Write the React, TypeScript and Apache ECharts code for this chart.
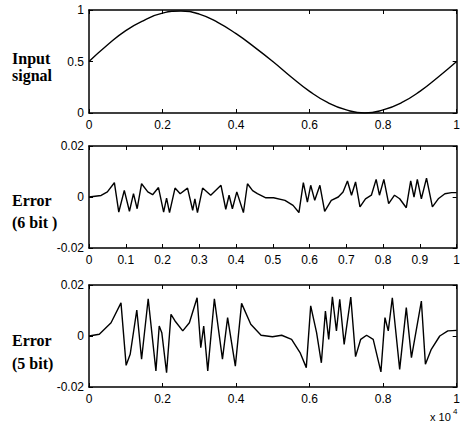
import React, { useEffect, useRef } from "react";
import * as echarts from "echarts";

// Input signal (x in units of 10^4 samples)
const inputX = [0, 0.05, 0.1, 0.15, 0.2, 0.25, 0.3, 0.35, 0.4, 0.45, 0.5, 0.55, 0.6, 0.65, 0.7, 0.75, 0.8, 0.85, 0.9, 0.95, 1];
const inputY = [0.5, 0.66, 0.8, 0.9, 0.97, 0.99, 0.96, 0.88, 0.77, 0.64, 0.5, 0.35, 0.21, 0.1, 0.03, 0.0, 0.03, 0.1, 0.21, 0.35, 0.5];

// Error, 6 bit
const err6X = [0, 0.033, 0.05, 0.069, 0.081, 0.096, 0.11, 0.121, 0.131, 0.143, 0.16, 0.173, 0.189, 0.203, 0.211, 0.219, 0.234, 0.248, 0.268, 0.282, 0.288, 0.295, 0.309, 0.331, 0.359, 0.372, 0.381, 0.39, 0.402, 0.42, 0.431, 0.445, 0.458, 0.481, 0.502, 0.533, 0.555, 0.571, 0.583, 0.594, 0.603, 0.614, 0.628, 0.641, 0.659, 0.678, 0.691, 0.703, 0.714, 0.725, 0.737, 0.752, 0.768, 0.781, 0.79, 0.802, 0.815, 0.831, 0.845, 0.863, 0.875, 0.884, 0.893, 0.904, 0.918, 0.934, 0.95, 0.968, 0.986, 1.0];
const err6Y = [0, 0.0006, 0.002, 0.0056, -0.0059, 0.0026, -0.0056, 0.0013, -0.0046, 0.0052, 0.002, 0.0009, 0.0037, -0.0059, -0.0004, -0.0061, 0.0035, 0.0013, 0.0035, -0.0052, -0.0007, -0.0061, 0.0035, 0.0007, 0.0046, -0.0048, 0.0007, -0.0046, 0.002, -0.0061, 0.0052, 0.0025, 0.0013, -0.0003, -0.0003, -0.0013, -0.0033, -0.0061, 0.0056, -0.002, 0.0046, -0.0013, 0.0046, -0.0056, -0.0013, 0, 0.002, 0.0063, 0.0007, 0.0059, -0.0039, -0.0007, 0.0007, 0.0069, 0.0007, 0.0069, -0.0026, 0.0007, -0.0007, -0.0042, 0.0063, 0, 0.0069, -0.0007, 0.0074, -0.0039, -0.0007, 0.0013, 0.0017, 0.0017];

// Error, 5 bit
const err5X = [0, 0.028, 0.06, 0.087, 0.101, 0.112, 0.13, 0.143, 0.161, 0.182, 0.191, 0.198, 0.211, 0.223, 0.234, 0.255, 0.273, 0.294, 0.304, 0.312, 0.323, 0.341, 0.363, 0.377, 0.398, 0.415, 0.44, 0.468, 0.499, 0.524, 0.551, 0.574, 0.591, 0.603, 0.619, 0.632, 0.643, 0.652, 0.662, 0.673, 0.682, 0.694, 0.712, 0.725, 0.739, 0.755, 0.773, 0.794, 0.805, 0.814, 0.825, 0.845, 0.863, 0.877, 0.904, 0.915, 0.931, 0.954, 0.976, 1.0];
const err5Y = [0, 0.0007, 0.0052, 0.013, -0.0115, -0.0072, 0.0102, -0.0091, 0.0146, -0.0137, 0.0039, 0.0013, -0.0144, 0.0085, 0.0059, 0.002, 0.0052, 0.015, -0.0046, 0.0039, -0.0137, 0.0146, -0.0091, 0.0072, -0.0118, 0.0128, 0.0046, 0.0003, -0.0003, 0.0003, -0.0013, -0.0065, -0.0124, 0.0118, 0.0013, -0.0105, 0.0098, -0.0013, 0.0154, 0.002, 0.0144, -0.0033, 0.0153, -0.0081, -0.0013, 0.0003, -0.0013, -0.0141, 0.0072, 0.002, 0.015, -0.0131, 0.0111, -0.0085, 0.0137, -0.0111, -0.0052, 0, 0.002, 0.0022];

const panelLabels = [["Input", "signal"], ["Error", "(6 bit )"], ["Error", "(5 bit)"]];

const zip = (xs: number[], ys: number[]) => xs.map((x, i) => [x, ys[i]]);

export default function App() {
  const ref = useRef<HTMLDivElement>(null);
  useEffect(() => {
    if (!ref.current) return;
    const chart = echarts.init(ref.current, null, { renderer: "svg" });
    const grids = [
      { left: 89, right: 6, top: 10, height: 103 },
      { left: 89, right: 6, top: 146, height: 102 },
      { left: 89, right: 6, top: 285, height: 102 },
    ];
    const xIntervals = [0.2, 0.1, 0.2];
    const yRanges = [
      { min: 0, max: 1, interval: 0.5 },
      { min: -0.02, max: 0.02, interval: 0.02 },
      { min: -0.02, max: 0.02, interval: 0.02 },
    ];
    const font = "'Liberation Sans', Arial, sans-serif";
    const axisLine = { show: true, onZero: false, lineStyle: { color: "#000", width: 1.5 } };
    const axisTick = { show: true, inside: true, length: 4, lineStyle: { color: "#000", width: 1 } };
    const xAxis: any[] = [];
    const yAxis: any[] = [];
    grids.forEach((g, i) => {
      xAxis.push({
        type: "value", gridIndex: i, position: "bottom", min: 0, max: 1, interval: xIntervals[i],
        axisLine, axisTick, splitLine: { show: false },
        axisLabel: { color: "#000", fontSize: 12, fontFamily: font, margin: 6 },
      });
      xAxis.push({
        type: "value", gridIndex: i, position: "top", min: 0, max: 1, interval: xIntervals[i],
        axisLine, axisTick, splitLine: { show: false }, axisLabel: { show: false },
      });
      yAxis.push({
        type: "value", gridIndex: i, position: "left", ...yRanges[i],
        axisLine, axisTick, splitLine: { show: false },
        axisLabel: { color: "#000", fontSize: 12, fontFamily: font, margin: 5 },
      });
      yAxis.push({
        type: "value", gridIndex: i, position: "right", ...yRanges[i],
        axisLine, axisTick, splitLine: { show: false }, axisLabel: { show: false },
      });
    });
    const datasets = [zip(inputX, inputY), zip(err6X, err6Y), zip(err5X, err5Y)];
    const series = datasets.map((d, i) => ({
      type: "line", xAxisIndex: i * 2, yAxisIndex: i * 2, data: d,
      showSymbol: false, smooth: i === 0, lineStyle: { color: "#000", width: 1.4 },
    }));
    const labelPos = [
      [59, 76],
      [201, 223],
      [341, 364],
    ];
    const graphic: any[] = [];
    panelLabels.forEach((pair, i) => {
      pair.forEach((t, j) => {
        graphic.push({
          type: "text", left: 12, top: labelPos[i][j] - 9,
          style: { text: t, font: "bold 16px 'Liberation Serif', 'Times New Roman', serif", fill: "#000" },
        });
      });
    });
    graphic.push({
      type: "text", left: 430, top: 411,
      style: { text: "x 10", font: "11px 'Liberation Sans', Arial, sans-serif", fill: "#000" },
    });
    graphic.push({
      type: "text", left: 453, top: 407,
      style: { text: "4", font: "8px 'Liberation Sans', Arial, sans-serif", fill: "#000" },
    });
    chart.setOption({
      animation: false,
      backgroundColor: "#fff",
      grid: grids,
      xAxis,
      yAxis,
      series,
      graphic,
    });
    return () => chart.dispose();
  }, []);
  return <div ref={ref} style={{ position: "absolute", left: 0, top: 0, width: 463, height: 430 }} />;
}
